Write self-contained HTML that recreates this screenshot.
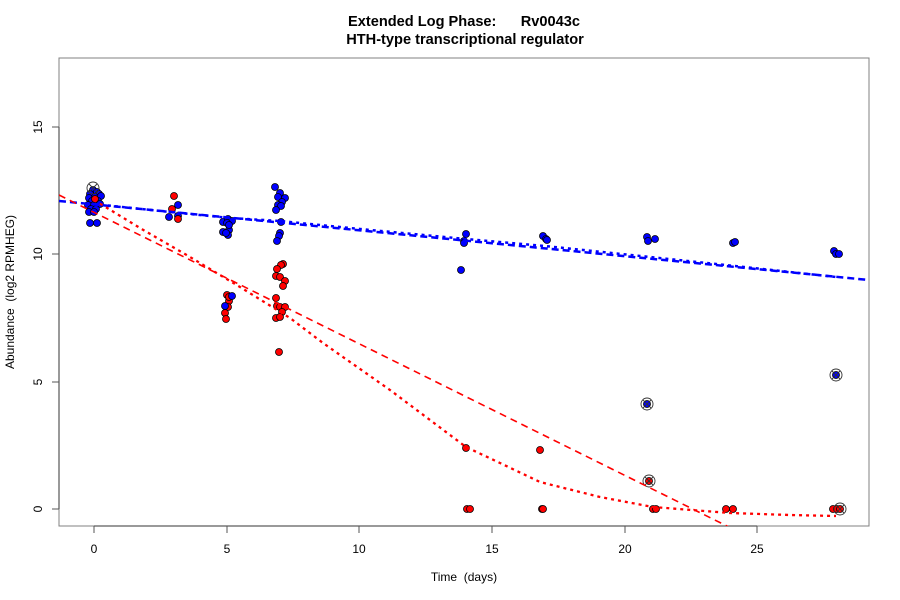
<!DOCTYPE html>
<html><head><meta charset="utf-8"><style>
html,body{margin:0;padding:0;background:#fff;}
svg{display:block;font-family:"Liberation Sans",Arial,sans-serif;}
svg text{white-space:pre;}
</style></head><body>
<svg width="900" height="600" viewBox="0 0 900 600" xmlns="http://www.w3.org/2000/svg">
<rect width="900" height="600" fill="#fff"/>
<defs><clipPath id="pc"><rect x="59" y="58" width="810" height="468"/></clipPath></defs>
<text x="464" y="26" text-anchor="middle" font-size="14.6" font-weight="bold" xml:space="preserve">Extended Log Phase:      Rv0043c</text>
<text x="465" y="44" text-anchor="middle" font-size="14.6" font-weight="bold">HTH-type transcriptional regulator</text>
<rect x="59" y="58" width="810" height="468" fill="none" stroke="#808080" stroke-width="1"/>
<line x1="59" y1="127" x2="59" y2="509" stroke="#333" stroke-width="1"/>
<line x1="94" y1="526" x2="757" y2="526" stroke="#333" stroke-width="1"/>
<g stroke="#555" stroke-width="1">
<line x1="94" y1="526" x2="94" y2="533"/><line x1="227" y1="526" x2="227" y2="533"/><line x1="359" y1="526" x2="359" y2="533"/><line x1="492" y1="526" x2="492" y2="533"/><line x1="625" y1="526" x2="625" y2="533"/><line x1="757" y1="526" x2="757" y2="533"/>
<line x1="52" y1="509" x2="59" y2="509"/><line x1="52" y1="382" x2="59" y2="382"/><line x1="52" y1="254" x2="59" y2="254"/><line x1="52" y1="127" x2="59" y2="127"/>
</g>
<g font-size="12" text-anchor="middle" fill="#000">
<text x="94" y="553">0</text><text x="227" y="553">5</text><text x="359" y="553">10</text><text x="492" y="553">15</text><text x="625" y="553">20</text><text x="757" y="553">25</text>
<text transform="translate(42,509) rotate(-90)">0</text>
<text transform="translate(42,382) rotate(-90)">5</text>
<text transform="translate(42,254) rotate(-90)">10</text>
<text transform="translate(42,127) rotate(-90)">15</text>
<text x="464" y="581" xml:space="preserve">Time  (days)</text>
<text transform="translate(14,292) rotate(-90)" xml:space="preserve">Abundance  (log2 RPMHEG)</text>
</g>
<g clip-path="url(#pc)">
<g fill="#0000ff" stroke="#000" stroke-width="0.8">
<circle cx="93" cy="190" r="3.5"/><circle cx="97" cy="192" r="3.5"/><circle cx="90" cy="194" r="3.5"/><circle cx="99" cy="194" r="3.5"/><circle cx="89" cy="198" r="3.5"/><circle cx="95" cy="197" r="3.5"/><circle cx="101" cy="196" r="3.5"/><circle cx="92" cy="201" r="3.5"/><circle cx="98" cy="201" r="3.5"/><circle cx="88" cy="205" r="3.5"/><circle cx="94" cy="205" r="3.5"/><circle cx="100" cy="204" r="3.5"/><circle cx="91" cy="209" r="3.5"/><circle cx="96" cy="209" r="3.5"/><circle cx="89" cy="212" r="3.5"/><circle cx="94" cy="212" r="3.5"/><circle cx="90" cy="223" r="3.5"/><circle cx="97" cy="223" r="3.5"/>
<circle cx="178" cy="205" r="3.5"/><circle cx="169" cy="217" r="3.5"/><circle cx="178" cy="216" r="3.5"/>
<circle cx="223" cy="222" r="3.5"/><circle cx="228" cy="219" r="3.5"/><circle cx="232" cy="221" r="3.5"/><circle cx="227" cy="223" r="3.5"/><circle cx="223" cy="232" r="3.5"/><circle cx="229" cy="230" r="3.5"/><circle cx="228" cy="235" r="3.5"/><circle cx="226" cy="233" r="3.5"/><circle cx="229" cy="225" r="3.5"/>
<circle cx="275" cy="187" r="3.5"/><circle cx="280" cy="193" r="3.5"/><circle cx="278" cy="197" r="3.5"/><circle cx="285" cy="198" r="3.5"/><circle cx="282" cy="202" r="3.5"/><circle cx="278" cy="205" r="3.5"/><circle cx="281" cy="206" r="3.5"/><circle cx="276" cy="210" r="3.5"/><circle cx="281" cy="222" r="3.5"/><circle cx="280" cy="233" r="3.5"/><circle cx="279" cy="236" r="3.5"/><circle cx="277" cy="241" r="3.5"/>
<circle cx="466" cy="234" r="3.5"/><circle cx="464" cy="241" r="3.5"/><circle cx="464" cy="243" r="3.5"/><circle cx="461" cy="270" r="3.5"/>
<circle cx="543" cy="236" r="3.5"/><circle cx="546" cy="239" r="3.5"/><circle cx="547" cy="240" r="3.5"/>
<circle cx="647" cy="237" r="3.5"/><circle cx="648" cy="241" r="3.5"/><circle cx="655" cy="239" r="3.5"/>
<circle cx="733" cy="243" r="3.5"/><circle cx="735" cy="242" r="3.5"/>
<circle cx="834" cy="251" r="3.5"/><circle cx="836" cy="254" r="3.5"/><circle cx="839" cy="254" r="3.5"/>
<circle cx="647" cy="404" r="3.5"/><circle cx="836" cy="375" r="3.5"/>
</g>
<g fill="#ff0000" stroke="#000" stroke-width="0.8">
<circle cx="95" cy="199" r="3.5"/>
<circle cx="174" cy="196" r="3.5"/><circle cx="172" cy="209" r="3.5"/><circle cx="178" cy="219" r="3.5"/>
<circle cx="227" cy="295" r="3.5"/><circle cx="229" cy="301" r="3.5"/><circle cx="228" cy="307" r="3.5"/><circle cx="225" cy="313" r="3.5"/><circle cx="226" cy="319" r="3.5"/><circle cx="229" cy="297" r="3.5"/>
<circle cx="283" cy="264" r="3.5"/><circle cx="281" cy="265" r="3.5"/><circle cx="277" cy="269" r="3.5"/><circle cx="276" cy="276" r="3.5"/><circle cx="280" cy="277" r="3.5"/><circle cx="285" cy="281" r="3.5"/><circle cx="283" cy="286" r="3.5"/><circle cx="276" cy="298" r="3.5"/><circle cx="277" cy="306" r="3.5"/><circle cx="280" cy="307" r="3.5"/><circle cx="285" cy="307" r="3.5"/><circle cx="282" cy="312" r="3.5"/><circle cx="276" cy="318" r="3.5"/><circle cx="280" cy="317" r="3.5"/><circle cx="279" cy="352" r="3.5"/>
<circle cx="466" cy="448" r="3.5"/><circle cx="467" cy="509" r="3.5"/><circle cx="470" cy="509" r="3.5"/>
<circle cx="540" cy="450" r="3.5"/><circle cx="542" cy="509" r="3.5"/><circle cx="543" cy="509" r="3.5"/>
<circle cx="649" cy="481" r="3.5"/><circle cx="653" cy="509" r="3.5"/><circle cx="656" cy="509" r="3.5"/>
<circle cx="726" cy="509" r="3.5"/><circle cx="733" cy="509" r="3.5"/>
<circle cx="833" cy="509" r="3.5"/><circle cx="837" cy="509" r="3.5"/><circle cx="840" cy="509" r="3.5"/>
</g>
<g fill="#0000ff" stroke="#000" stroke-width="0.8">
<circle cx="232" cy="296" r="3.5"/><circle cx="225" cy="306" r="3.5"/>
</g>
<g fill="none" stroke="#333" stroke-width="0.9">
<circle cx="93" cy="188" r="6"/><line x1="89" y1="184" x2="97" y2="192"/><line x1="89" y1="192" x2="97" y2="184"/>
<circle cx="647" cy="404" r="6"/><line x1="643" y1="400" x2="651" y2="408"/><line x1="643" y1="408" x2="651" y2="400"/>
<circle cx="649" cy="481" r="6"/><line x1="645" y1="477" x2="653" y2="485"/><line x1="645" y1="485" x2="653" y2="477"/>
<circle cx="836" cy="375" r="6"/><line x1="832" y1="371" x2="840" y2="379"/><line x1="832" y1="379" x2="840" y2="371"/>
<circle cx="840" cy="509" r="6"/><line x1="836" y1="505" x2="844" y2="513"/><line x1="836" y1="513" x2="844" y2="505"/>
</g>
<line x1="59" y1="201" x2="869" y2="280" stroke="#0000ff" stroke-width="2.5" stroke-dasharray="7,4"/>
<polyline points="94,204 170,212 230,218 280,221 360,229 466,239 545,246 650,257 735,266 836,277" fill="none" stroke="#0000ff" stroke-width="2.5" stroke-dasharray="3,4"/>
<line x1="59" y1="195" x2="735" y2="530" stroke="#ff0000" stroke-width="1.6" stroke-dasharray="7,5"/>
<polyline points="94,200 140,228 190,257 240,287 290,318 323,343 390,390 466,447 500,463 540,482 600,497 653,507 730,513 790,515 836,516" fill="none" stroke="#ff0000" stroke-width="2.3" stroke-dasharray="3,4"/>
</g>
</svg>
</body></html>
